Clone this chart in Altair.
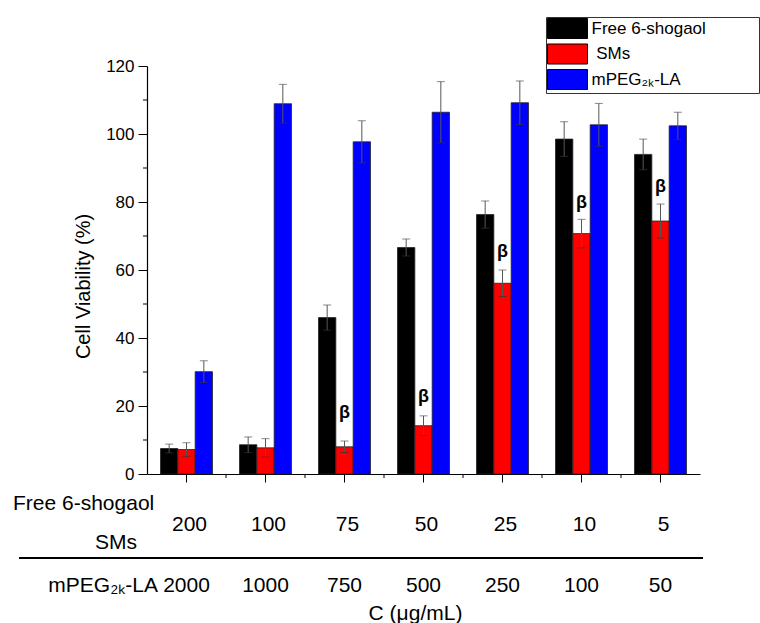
import altair as alt
import pandas as pd

# ---------------- data ----------------
groups = ["200", "100", "75", "50", "25", "10", "5"]          # Free 6-shogaol / SMs (ug/mL)
mpeg_conc = ["2000", "1000", "750", "500", "250", "100", "50"]  # mPEG2k-LA (ug/mL)
series = ["Free 6-shogaol", "SMs", "mPEG\u2082\u2096-LA"]
colors = ["#000000", "#ff0000", "#0000ff"]

free_mean = [7.5, 8.6, 46.0, 66.6, 76.3, 98.5, 94.0]
free_err = [1.3, 2.3, 3.7, 2.5, 4.0, 5.1, 4.5]
sms_mean = [7.2, 7.7, 8.0, 14.2, 56.1, 70.7, 74.4]
sms_err = [2.0, 2.7, 1.7, 2.9, 3.9, 4.2, 5.0]
mpeg_mean = [30.1, 108.9, 97.7, 106.4, 109.2, 102.7, 102.4]
mpeg_err = [3.2, 5.7, 6.2, 9.0, 6.4, 6.3, 4.0]
beta_y = [None, None, 17.9, 22.7, 65.4, 79.6, 84.5]

y_ticks = [0, 20, 40, 60, 80, 100, 120]
y_minor = [10, 30, 50, 70, 90, 110]
row_names = ["Free 6-shogaol", "SMs", "mPEG\u2082\u2096-LA"]
x_title = "C (\u03bcg/mL)"
y_title = "Cell Viability (%)"

# ---------------- tables ----------------
rows = []
for i, g in enumerate(groups):
    for s, m, e in zip(series,
                       [free_mean[i], sms_mean[i], mpeg_mean[i]],
                       [free_err[i], sms_err[i], mpeg_err[i]]):
        rows.append({"group": g, "series": s, "mean": m, "lo": m - e, "hi": m + e})
df = pd.DataFrame(rows)

beta_df = pd.DataFrame([{"group": g, "series": series[1], "y": b, "t": "\u03b2"}
                        for g, b in zip(groups, beta_y) if b is not None])
conc_df = pd.DataFrame({"group": groups, "mpeg": mpeg_conc})
minor_x_df = pd.DataFrame({"group": groups[:-1]})
minor_y_df = pd.DataFrame({"v": y_minor})

FONT = "Liberation Sans"
W, H = 553, 408

xscale = alt.Scale(domain=groups, paddingInner=0, paddingOuter=0)
yscale = alt.Scale(domain=[0, 120], nice=False)
xoff = alt.XOffset("series:N", scale=alt.Scale(domain=series, paddingInner=0, paddingOuter=0.779))

x_axis = alt.Axis(labels=False, tickSize=8, tickColor="black", domainColor="black",
                  domainWidth=1.2, tickWidth=1, grid=False,
                  title=x_title, titleFontSize=21, titleFontWeight="normal",
                  titleX=268, titleY=139, titleBaseline="middle", titleAlign="center",
                  titleColor="black", titleFont=FONT)
y_axis = alt.Axis(values=y_ticks, tickSize=9, tickColor="black", domainColor="black",
                  domainWidth=1.2, tickWidth=1, labelFontSize=17, labelColor="black",
                  labelPadding=4, labelFont=FONT, grid=False, title=y_title,
                  titleFontSize=20, titleFontWeight="normal", titleX=-64, titleY=220,
                  titleAlign="center", titleBaseline="middle", titleColor="black",
                  titleFont=FONT)

X = alt.X("group:N", scale=xscale, axis=x_axis, title=x_title)


def Y(field):
    return alt.Y(field, scale=yscale, axis=y_axis, title=y_title)


ZW = "\u200b"
PAD = "\u00a0" * 11 + ZW
legend = alt.Legend(
    title=None, orient="none", legendX=399, legendY=-49,
    symbolType="M-1,-1H3V1H-1Z", symbolSize=400, symbolStrokeColor="black",
    symbolStrokeWidth=1, symbolOpacity=1,
    labelFont=FONT, labelFontSize=17, labelColor="black", labelOffset=23.5,
    labelLimit=500, rowPadding=0.5, padding=1,
    labelExpr="(datum.label == 'SMs' ? '" + ZW + "\u00a0SMs' : datum.label) + '" + PAD + "'",
    strokeColor="#333333", fillColor="white",
)

base = alt.Chart(df)

bars = base.mark_bar(stroke="#222222", strokeWidth=0.8).encode(
    x=X,
    xOffset=xoff,
    y=Y("mean:Q"),
    color=alt.Color("series:N", scale=alt.Scale(domain=series, range=colors), legend=legend),
)

err = base.mark_rule(color="#555555", strokeWidth=1).encode(
    x=X, xOffset=xoff, y=Y("lo:Q"), y2="hi:Q",
)

cap_hi = base.mark_tick(color="#555555", size=8, thickness=1, orient="horizontal").encode(
    x=X, xOffset=xoff, y=Y("hi:Q"),
)
cap_lo = base.mark_tick(color="#333333", size=8, thickness=1, orient="horizontal").encode(
    x=X, xOffset=xoff, y=Y("lo:Q"),
)

beta = alt.Chart(beta_df).mark_text(fontSize=18, fontWeight="bold", font=FONT,
                                    color="black", baseline="middle").encode(
    x=X, xOffset=xoff, y=Y("y:Q"), text="t:N",
)

x_minor = alt.Chart(minor_x_df).mark_rule(color="black", strokeWidth=1).encode(
    x=alt.X("group:N", bandPosition=1, scale=xscale, axis=x_axis, title=x_title),
    y=alt.value(H), y2=alt.value(H + 4),
)
y_minor_r = alt.Chart(minor_y_df).mark_rule(color="black", strokeWidth=1).encode(
    y=Y("v:Q"),
    x=alt.value(-4), x2=alt.value(0),
)

upper_nums = alt.Chart(conc_df).mark_text(fontSize=21, font=FONT, color="black",
                                          baseline="middle", dx=3).encode(
    x=X, y=alt.value(459), text="group:N",
)
lower_nums = alt.Chart(conc_df).mark_text(fontSize=21, font=FONT, color="black",
                                          baseline="middle", dx=0).encode(
    x=X, y=alt.value(520), text="mpeg:N",
)

lab_df = pd.DataFrame({"name": row_names})
lab1 = alt.Chart(lab_df.iloc[[0]]).mark_text(fontSize=21, font=FONT, color="black",
                                             align="left", baseline="middle").encode(
    x=alt.value(-134), y=alt.value(438), text="name:N")
lab2 = alt.Chart(lab_df.iloc[[1]]).mark_text(fontSize=21, font=FONT, color="black",
                                             align="center", baseline="middle").encode(
    x=alt.value(-31), y=alt.value(477), text="name:N")
lab3 = alt.Chart(lab_df.iloc[[2]]).mark_text(fontSize=21, font=FONT, color="black",
                                             align="right", baseline="middle").encode(
    x=alt.value(11), y=alt.value(520), text="name:N")

hline = alt.Chart(lab_df.iloc[[0]]).mark_rule(color="black", strokeWidth=2).encode(
    x=alt.value(-128), x2=alt.value(556), y=alt.value(492))

chart = alt.layer(
    bars, err, cap_hi, cap_lo, beta, x_minor, y_minor_r,
    upper_nums, lower_nums, lab1, lab2, lab3, hline,
).properties(
    width=W, height=H,
    autosize=alt.AutoSizeParams(type="none"),
    padding={"left": 147, "top": 66, "right": 60, "bottom": 149},
).configure(font=FONT, background="white").configure_view(stroke=None)

chart.save("out.html", embed_options={"renderer": "svg", "actions": False})
